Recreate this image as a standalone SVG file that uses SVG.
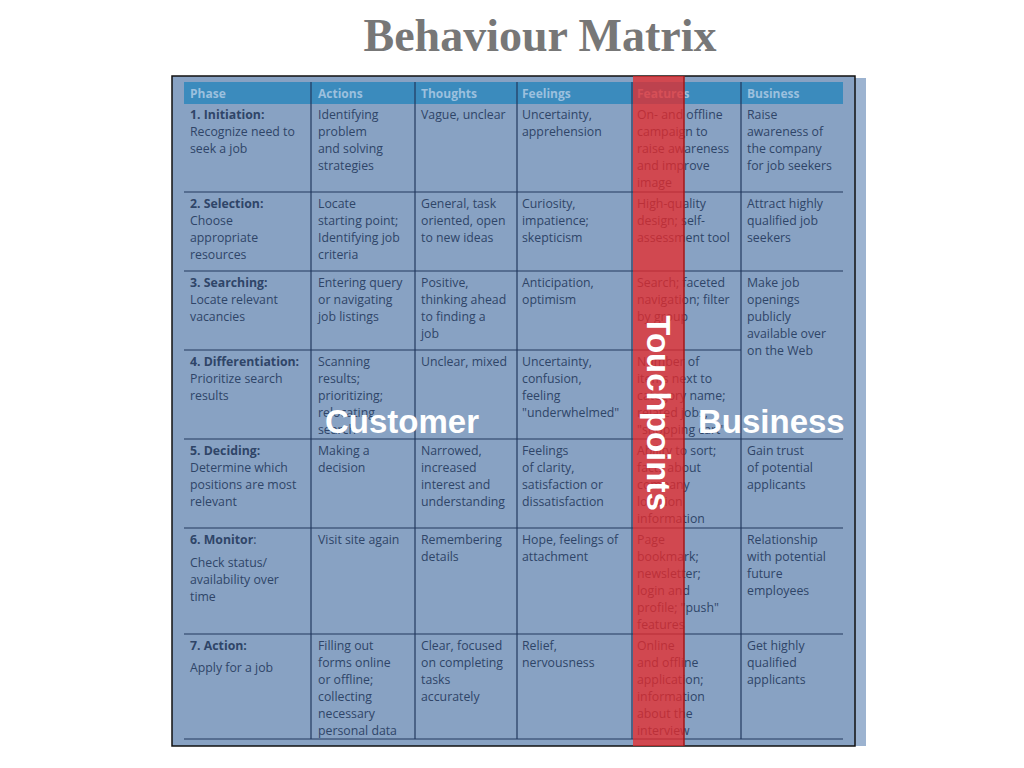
<svg xmlns="http://www.w3.org/2000/svg" width="1024" height="768" viewBox="0 0 1024 768">
<style>
.t{font-family:"Open Sans","DejaVu Sans",sans-serif;font-size:12.3px;fill:#2f4568}
.b{font-weight:bold}
.h{font-family:"Open Sans","DejaVu Sans",sans-serif;font-size:12px;font-weight:bold;fill:#9cc0de}
.g{stroke:#23395e;stroke-width:1.2}
.big{font-family:"Liberation Sans",Arial,sans-serif;font-weight:bold;font-size:33px;fill:#fff}
</style>
<rect width="1024" height="768" fill="#fff"/>
<text x="540" y="51" text-anchor="middle" font-family="Liberation Serif,serif" font-weight="bold" font-size="46" fill="#777">Behaviour Matrix</text>
<rect x="855" y="78" width="11" height="668" fill="#9cb3d0"/>
<rect x="172" y="76" width="683" height="670" fill="#88a2c3" stroke="#111" stroke-width="1.5"/>
<rect x="184" y="82" width="659" height="22" fill="#3b8bbd"/>
<g id="grid" class="g">
<line x1="311" y1="82" x2="311" y2="739"/><line x1="415" y1="82" x2="415" y2="739"/>
<line x1="517" y1="82" x2="517" y2="739"/><line x1="632" y1="82" x2="632" y2="739"/>
<line x1="741" y1="82" x2="741" y2="739"/>
<line x1="184" y1="192" x2="843" y2="192"/><line x1="184" y1="271" x2="843" y2="271"/>
<line x1="184" y1="350" x2="741" y2="350"/><line x1="184" y1="439" x2="843" y2="439"/>
<line x1="184" y1="528" x2="843" y2="528"/><line x1="184" y1="634" x2="843" y2="634"/>
<line x1="184" y1="739" x2="843" y2="739"/>
</g>
<g id="header">
<text class="h" x="190" y="98">Phase</text><text class="h" x="318" y="98">Actions</text>
<text class="h" x="421" y="98">Thoughts</text><text class="h" x="522" y="98">Feelings</text>
<text class="h" x="637" y="98">Features</text><text class="h" x="747" y="98">Business</text>
</g>
<g id="body" class="t">
<text x="190" y="119"><tspan class="b">1. Initiation:</tspan><tspan x="190" dy="17">Recognize need to</tspan><tspan x="190" dy="17">seek a job</tspan></text>
<text x="318" y="119">Identifying<tspan x="318" dy="17">problem</tspan><tspan x="318" dy="17">and solving</tspan><tspan x="318" dy="17">strategies</tspan></text>
<text x="421" y="119">Vague, unclear</text>
<text x="522" y="119">Uncertainty,<tspan x="522" dy="17">apprehension</tspan></text>
<text x="637" y="119">On- and offline<tspan x="637" dy="17">campaign to</tspan><tspan x="637" dy="17">raise awareness</tspan><tspan x="637" dy="17">and improve</tspan><tspan x="637" dy="17">image</tspan></text>
<text x="747" y="119">Raise<tspan x="747" dy="17">awareness of</tspan><tspan x="747" dy="17">the company</tspan><tspan x="747" dy="17">for job seekers</tspan></text>

<text x="190" y="208"><tspan class="b">2. Selection:</tspan><tspan x="190" dy="17">Choose</tspan><tspan x="190" dy="17">appropriate</tspan><tspan x="190" dy="17">resources</tspan></text>
<text x="318" y="208">Locate<tspan x="318" dy="17">starting point;</tspan><tspan x="318" dy="17">Identifying job</tspan><tspan x="318" dy="17">criteria</tspan></text>
<text x="421" y="208">General, task<tspan x="421" dy="17">oriented, open</tspan><tspan x="421" dy="17">to new ideas</tspan></text>
<text x="522" y="208">Curiosity,<tspan x="522" dy="17">impatience;</tspan><tspan x="522" dy="17">skepticism</tspan></text>
<text x="637" y="208">High-quality<tspan x="637" dy="17">design; self-</tspan><tspan x="637" dy="17">assessment tool</tspan></text>
<text x="747" y="208">Attract highly<tspan x="747" dy="17">qualified job</tspan><tspan x="747" dy="17">seekers</tspan></text>

<text x="190" y="287"><tspan class="b">3. Searching:</tspan><tspan x="190" dy="17">Locate relevant</tspan><tspan x="190" dy="17">vacancies</tspan></text>
<text x="318" y="287">Entering query<tspan x="318" dy="17">or navigating</tspan><tspan x="318" dy="17">job listings</tspan></text>
<text x="421" y="287">Positive,<tspan x="421" dy="17">thinking ahead</tspan><tspan x="421" dy="17">to finding a</tspan><tspan x="421" dy="17">job</tspan></text>
<text x="522" y="287">Anticipation,<tspan x="522" dy="17">optimism</tspan></text>
<text x="637" y="287">Search; faceted<tspan x="637" dy="17">navigation; filter</tspan><tspan x="637" dy="17">by group</tspan></text>
<text x="747" y="287">Make job<tspan x="747" dy="17">openings</tspan><tspan x="747" dy="17">publicly</tspan><tspan x="747" dy="17">available over</tspan><tspan x="747" dy="17">on the Web</tspan></text>

<text x="190" y="366"><tspan class="b">4. Differentiation:</tspan><tspan x="190" dy="17">Prioritize search</tspan><tspan x="190" dy="17">results</tspan></text>
<text x="318" y="366">Scanning<tspan x="318" dy="17">results;</tspan><tspan x="318" dy="17">prioritizing;</tspan><tspan x="318" dy="17">relocating</tspan><tspan x="318" dy="17">search</tspan></text>
<text x="421" y="366">Unclear, mixed</text>
<text x="522" y="366">Uncertainty,<tspan x="522" dy="17">confusion,</tspan><tspan x="522" dy="17">feeling</tspan><tspan x="522" dy="17">"underwhelmed"</tspan></text>
<text x="637" y="366">Number of<tspan x="637" dy="17">items next to</tspan><tspan x="637" dy="17">category name;</tspan><tspan x="637" dy="17">related jobs;</tspan><tspan x="637" dy="17">"shopping cart"</tspan></text>

<text x="190" y="455"><tspan class="b">5. Deciding:</tspan><tspan x="190" dy="17">Determine which</tspan><tspan x="190" dy="17">positions are most</tspan><tspan x="190" dy="17">relevant</tspan></text>
<text x="318" y="455">Making a<tspan x="318" dy="17">decision</tspan></text>
<text x="421" y="455">Narrowed,<tspan x="421" dy="17">increased</tspan><tspan x="421" dy="17">interest and</tspan><tspan x="421" dy="17">understanding</tspan></text>
<text x="522" y="455">Feelings<tspan x="522" dy="17">of clarity,</tspan><tspan x="522" dy="17">satisfaction or</tspan><tspan x="522" dy="17">dissatisfaction</tspan></text>
<text x="637" y="455">Ability to sort;<tspan x="637" dy="17">facts about</tspan><tspan x="637" dy="17">company</tspan><tspan x="637" dy="17">location</tspan><tspan x="637" dy="17">information</tspan></text>
<text x="747" y="455">Gain trust<tspan x="747" dy="17">of potential</tspan><tspan x="747" dy="17">applicants</tspan></text>

<text x="190" y="544"><tspan class="b">6. Monitor</tspan>:<tspan x="190" dy="23">Check status/</tspan><tspan x="190" dy="17">availability over</tspan><tspan x="190" dy="17">time</tspan></text>
<text x="318" y="544">Visit site again</text>
<text x="421" y="544">Remembering<tspan x="421" dy="17">details</tspan></text>
<text x="522" y="544">Hope, feelings of<tspan x="522" dy="17">attachment</tspan></text>
<text x="637" y="544">Page<tspan x="637" dy="17">bookmark;</tspan><tspan x="637" dy="17">newsletter;</tspan><tspan x="637" dy="17">login and</tspan><tspan x="637" dy="17">profile; "push"</tspan><tspan x="637" dy="17">features</tspan></text>
<text x="747" y="544">Relationship<tspan x="747" dy="17">with potential</tspan><tspan x="747" dy="17">future</tspan><tspan x="747" dy="17">employees</tspan></text>

<text x="190" y="650"><tspan class="b">7. Action:</tspan><tspan x="190" dy="22">Apply for a job</tspan></text>
<text x="318" y="650">Filling out<tspan x="318" dy="17">forms online</tspan><tspan x="318" dy="17">or offline;</tspan><tspan x="318" dy="17">collecting</tspan><tspan x="318" dy="17">necessary</tspan><tspan x="318" dy="17">personal data</tspan></text>
<text x="421" y="650">Clear, focused<tspan x="421" dy="17">on completing</tspan><tspan x="421" dy="17">tasks</tspan><tspan x="421" dy="17">accurately</tspan></text>
<text x="522" y="650">Relief,<tspan x="522" dy="17">nervousness</tspan></text>
<text x="637" y="650">Online<tspan x="637" dy="17">and offline</tspan><tspan x="637" dy="17">application;</tspan><tspan x="637" dy="17">information</tspan><tspan x="637" dy="17">about the</tspan><tspan x="637" dy="17">interview</tspan></text>
<text x="747" y="650">Get highly<tspan x="747" dy="17">qualified</tspan><tspan x="747" dy="17">applicants</tspan></text>
</g>
<rect id="touch" x="633" y="76" width="51" height="670" fill="#ea2a2a" fill-opacity="0.75"/>
<line x1="684" y1="76" x2="684" y2="746" stroke="#a0181a" stroke-width="1.5"/>
<g id="labels">
<text class="big" x="325" y="433">Customer</text>
<text class="big" x="698" y="433">Business</text>
<text class="big" transform="translate(647,413) rotate(90)" text-anchor="middle">Touchpoints</text>
</g>
</svg>
